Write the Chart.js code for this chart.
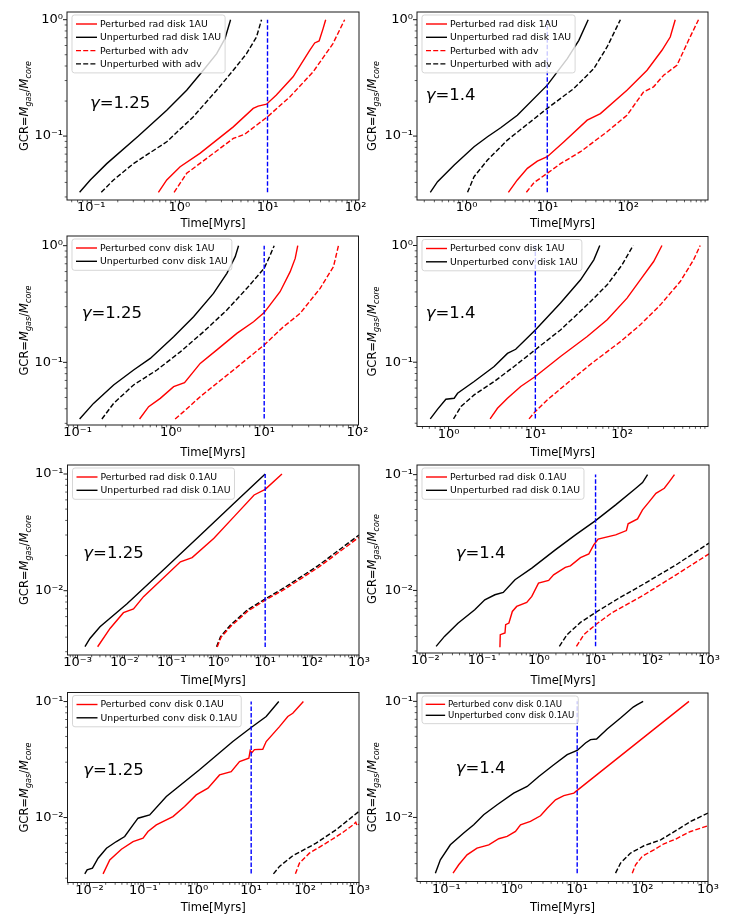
<!DOCTYPE html>
<html>
<head>
<meta charset="utf-8">
<script src="https://cdn.jsdelivr.net/npm/chart.js@4.4.0/dist/chart.umd.min.js"></script>
<style>
  html, body { margin: 0; padding: 0; background: #fff; }
  body { width: 747px; height: 922px; position: relative; overflow: hidden; }
  canvas { position: absolute; }
</style>
</head>
<body>
<script>
// GCR curves, each point is [time in Myr, GCR]
// row 1: radiative disk at 1 AU
const p1PertRad = [[0.578,0.0329],[0.719,0.042],[1.02,0.0546],[1.71,0.071],[4.09,0.120],[6.88,0.173],[7.83,0.181],[9.75,0.188],[12.6,0.225],[19.5,0.323],[30.1,0.546],[34.3,0.631],[38.5,0.656],[42.7,0.838],[45.7,1.0]];
const p1UnpRad  = [[0.0738,0.0329],[0.0975,0.042],[0.150,0.058],[0.343,0.1],[0.719,0.167],[1.21,0.248],[1.87,0.368],[2.65,0.511],[3.29,0.687],[3.81,1.0]];
const p1PertAdv = [[0.871,0.0329],[1.21,0.0479],[2.43,0.071],[4.09,0.0955],[5.53,0.104],[10,0.1465],[17.9,0.217],[32.9,0.356],[55.3,0.623],[75,1.0]];
const p1UnpAdv  = [[0.130,0.0329],[0.179,0.042],[0.301,0.058],[0.719,0.0894],[1.44,0.1465],[2.65,0.248],[4.09,0.368],[5.78,0.511],[7.5,0.71],[8.55,1.0]];

const p2PertRad = [[3.30,0.0329],[4.26,0.042],[5.67,0.0528],[7.53,0.061],[10,0.0665],[16.1,0.0894],[31.2,0.137],[45.5,0.156],[97,0.248],[172,0.368],[263,0.546],[333,0.71],[384,1.0]];
const p2UnpRad  = [[0.356,0.0329],[0.438,0.0406],[0.705,0.0564],[1.24,0.081],[1.82,0.0987],[2.65,0.118],[4.26,0.151],[10,0.274],[17.7,0.463],[24.6,0.665],[32.1,1.0]];
const p2PertAdv = [[5.51,0.0329],[6.84,0.0398],[10,0.0479],[14.6,0.058],[25.8,0.0734],[55,0.109],[97,0.151],[156,0.240],[207,0.265],[276,0.333],[403,0.406],[561,0.665],[745,1.0]];
const p2UnpAdv  = [[1.03,0.0329],[1.24,0.0448],[1.82,0.0623],[3.21,0.0924],[5.15,0.120],[10,0.173],[21.3,0.256],[37.7,0.380],[55,0.583],[80.4,1.0]];

// row 2: convective disk at 1 AU
const p3PertConv = [[0.461,0.0327],[0.577,0.0417],[0.769,0.0491],[1.07,0.0619],[1.40,0.067],[2.06,0.098],[3.11,0.128],[5.09,0.177],[7.69,0.223],[10,0.267],[14.8,0.403],[19.0,0.599],[21.5,0.778],[22.9,1.0]];
const p3UnpConv  = [[0.105,0.0327],[0.148,0.0445],[0.243,0.064],[0.398,0.086],[0.601,0.108],[1.07,0.166],[1.75,0.246],[2.86,0.39],[3.98,0.579],[4.89,0.805],[5.31,1.0]];
const p3PertAdv  = [[1.11,0.0327],[1.37,0.0378],[2.06,0.0508],[4.69,0.086],[10,0.141],[16.1,0.202],[24.3,0.263],[39.8,0.431],[55.3,0.661],[62.5,1.0]];
const p3UnpAdv   = [[0.182,0.0327],[0.243,0.0445],[0.398,0.064],[0.708,0.086],[1.26,0.123],[2.24,0.183],[3.98,0.281],[6.52,0.431],[10,0.64],[11.4,0.805],[12.8,1.0]];

const p4PertConv = [[3.01,0.0327],[3.66,0.0403],[4.77,0.0491],[6.78,0.0619],[10,0.0754],[19.5,0.112],[39.6,0.166],[67.3,0.231],[114,0.354],[162,0.508],[231,0.729],[288,1.0]];
const p4UnpConv  = [[0.615,0.0327],[0.748,0.0396],[0.931,0.0482],[1.16,0.0491],[1.27,0.0542],[1.97,0.0683],[3.35,0.0918],[4.77,0.119],[5.94,0.129],[10,0.189],[19.5,0.321],[33.2,0.508],[47.2,0.753],[55.3,1.0]];
const p4PertAdv  = [[8.46,0.0327],[10,0.0378],[13.7,0.0475],[23.3,0.066],[47.2,0.101],[95.7,0.150],[162,0.209],[276,0.31],[468,0.491],[666,0.753],[794,1.0]];
const p4UnpAdv   = [[1.14,0.0327],[1.39,0.0417],[1.97,0.0525],[3.35,0.0683],[5.69,0.0918],[10,0.128],[19.5,0.189],[39.6,0.31],[67.3,0.46],[100,0.683],[134,1.0]];

// row 3: radiative disk at 0.1 AU
const p5PertRad = [[0.00268,0.00331],[0.00493,0.00475],[0.00952,0.00648],[0.0156,0.00697],[0.0255,0.00889],[0.156,0.0177],[0.277,0.0192],[0.808,0.0281],[2.17,0.0431],[5.81,0.0661],[10,0.0739],[22.8,0.1]];
const p5UnpRad  = [[0.00144,0.00331],[0.00184,0.0039],[0.00301,0.00491],[0.0112,0.00769],[0.0807,0.0161],[0.418,0.030],[2.17,0.0561],[10,0.1]];
const p5PertAdv = [[0.95,0.0033],[1.15,0.004],[1.9,0.005],[4.3,0.0067],[10,0.0083],[26,0.0103],[135,0.0158],[1000,0.0287]];
const p5UnpAdv  = [[0.92,0.00331],[1.12,0.00405],[1.84,0.0051],[4.18,0.00685],[10,0.0085],[25.5,0.0106],[132,0.0163],[1000,0.030]];

const p6PertRad = [[0.206,0.00324],[0.209,0.00415],[0.253,0.00429],[0.26,0.00506],[0.297,0.00523],[0.341,0.00659],[0.407,0.00728],[0.612,0.00788],[0.752,0.00888],[0.986,0.01157],[1.49,0.0122],[1.82,0.01365],[2.93,0.0158],[3.6,0.0163],[5.42,0.0192],[7.62,0.0207],[9.34,0.0248],[11.1,0.0277],[22.6,0.0302],[35,0.0329],[37.5,0.0376],[55,0.0415],[67.3,0.0496],[88.5,0.0585],[116,0.069],[163,0.0762],[200,0.087],[246,0.1]];
const p6UnpRad  = [[0.01545,0.00329],[0.0217,0.00401],[0.0375,0.00522],[0.0741,0.00681],[0.1115,0.00831],[0.168,0.00918],[0.236,0.00962],[0.38,0.01236],[0.752,0.0156],[1.95,0.0224],[4.42,0.0302],[10,0.0401],[22.6,0.0548],[51.3,0.0762],[67.3,0.0853],[82.6,0.1]];
const p6PertAdv = [[4.6,0.00329],[6.21,0.00415],[10,0.00506],[19.8,0.00646],[67.3,0.009],[263,0.01365],[1000,0.0207]];
const p6UnpAdv  = [[2.3,0.00329],[3.14,0.00415],[5.42,0.0053],[10,0.00646],[25.9,0.00859],[67.3,0.0112],[263,0.01665],[1000,0.0256]];

// row 4: convective disk at 0.1 AU
const p7PertConv = [[0.0179,0.00327],[0.0238,0.00431],[0.0392,0.00533],[0.0644,0.00621],[0.0987,0.00663],[0.122,0.00757],[0.174,0.00865],[0.354,0.0102],[0.582,0.01245],[0.957,0.01567],[1.58,0.0179],[2.59,0.0233],[4.26,0.0249],[6.08,0.0304],[9.06,0.0325],[9.58,0.0378],[10.3,0.0362],[11.5,0.0385],[16.4,0.0388],[19,0.0452],[33.5,0.0608],[47.8,0.0743],[59.1,0.0793],[93,0.1]];
const p7UnpConv  = [[0.0082,0.00327],[0.00906,0.00354],[0.01138,0.00366],[0.01446,0.00446],[0.0207,0.00544],[0.0316,0.00621],[0.0451,0.00686],[0.0644,0.00865],[0.0797,0.00987],[0.131,0.01054],[0.267,0.0152],[1.1,0.0258],[4.57,0.0452],[10,0.0597],[19,0.0743],[32.5,0.1]];
const p7PertAdv  = [[66.2,0.00327],[78.5,0.00404],[120,0.00493],[245,0.00601],[499,0.00743],[764,0.0086],[870,0.0091],[920,0.0085],[1000,0.0088]];
const p7UnpAdv   = [[25.9,0.00327],[33.5,0.00379],[59.1,0.00468],[160,0.00601],[375,0.00783],[1000,0.0113]];

const p8PertConv = [[0.1265,0.00331],[0.1545,0.00391],[0.207,0.00476],[0.294,0.00544],[0.445,0.00581],[0.632,0.00655],[0.849,0.00686],[1.14,0.00757],[1.36,0.00865],[1.93,0.00924],[2.75,0.01033],[3.48,0.0120],[4.66,0.0142],[6.25,0.0154],[8.89,0.0162],[10,0.0171],[512,0.1]];
const p8UnpConv  = [[0.0679,0.00331],[0.0809,0.00431],[0.115,0.00581],[0.184,0.00733],[0.262,0.00865],[0.372,0.01054],[0.597,0.01285],[1.07,0.0162],[1.72,0.0185],[2.59,0.0225],[4.39,0.0284],[7.03,0.0347],[10,0.0378],[13.4,0.0438],[16,0.0468],[19.8,0.0474],[28.8,0.0577],[46,0.0718],[71.9,0.0893],[82.8,0.0936],[102,0.1]];
const p8PertAdv  = [[69.5,0.00331],[78.2,0.00391],[98.9,0.00462],[149,0.00526],[212,0.00593],[320,0.0065],[455,0.00722],[543,0.00757],[1000,0.00847]];
const p8UnpAdv   = [[38.6,0.00331],[46,0.00404],[65.5,0.00493],[105,0.0057],[189,0.00641],[340,0.00783],[543,0.00924],[1000,0.0109]];

// vertical marker at 10 Myr, spanning the GCR range of each row
const markerTime = 10;
const markerSpan1AU = [0.033, 1.0];
const markerSpan01AU = [0.0033, 0.1];

// axis limits as log10 exponents
const xLogRange = [[-1.275,2.038],[-0.613,2.99],[-1.114,2.011],[-0.364,2.99],[-3.214,3.0],[-2.148,3.0],[-2.407,3.0],[-1.449,3.0]];
const yLogRange = [[-1.549,0.066],[-1.549,0.066],[-1.537,0.083],[-1.551,0.077],[-2.551,-0.923],[-2.54,-0.917],[-2.56,-0.922],[-2.552,-0.928]];

// text
const legendRad1AU  = ['Perturbed rad disk 1AU','Unperturbed rad disk 1AU','Perturbed with adv','Unperturbed with adv'];
const legendConv1AU = ['Perturbed conv disk 1AU','Unperturbed conv disk 1AU'];
const legendRad01AU  = ['Perturbed rad disk 0.1AU','Unperturbed rad disk 0.1AU'];
const legendConv01AU = ['Perturbed conv disk 0.1AU','Unperturbed conv disk 0.1AU'];
const gammaValues = ['1.25','1.4','1.25','1.4','1.25','1.4','1.25','1.4'];
const xTitle = 'Time[Myrs]';
const superDigits = { '-': '\u207B', '0': '\u2070', '1': '\u00B9', '2': '\u00B2', '3': '\u00B3', '4': '\u2074' };

const panelSeries = [
  [p1PertRad, p1UnpRad, p1PertAdv, p1UnpAdv],
  [p2PertRad, p2UnpRad, p2PertAdv, p2UnpAdv],
  [p3PertConv, p3UnpConv, p3PertAdv, p3UnpAdv],
  [p4PertConv, p4UnpConv, p4PertAdv, p4UnpAdv],
  [p5PertRad, p5UnpRad, p5PertAdv, p5UnpAdv],
  [p6PertRad, p6UnpRad, p6PertAdv, p6UnpAdv],
  [p7PertConv, p7UnpConv, p7PertAdv, p7UnpAdv],
  [p8PertConv, p8UnpConv, p8PertAdv, p8UnpAdv]
];
const panelLegends = [legendRad1AU, legendRad1AU, legendConv1AU, legendConv1AU, legendRad01AU, legendRad01AU, legendConv01AU, legendConv01AU];
const markerSpans = [markerSpan1AU, markerSpan1AU, markerSpan1AU, markerSpan1AU, markerSpan01AU, markerSpan01AU, markerSpan01AU, markerSpan01AU];

// ---- layout (page pixels) ----
const colLeft = [0, 360], colWidth = [374, 387];
const rowTop = [0, 230, 460, 690], rowHeight = [232, 232, 232, 232];
const frames = [
  [67, 12, 359, 200], [417, 12, 708, 200],
  [67, 236, 358.5, 425], [417, 236.5, 708, 426.5],
  [67.5, 465, 359, 655], [417, 465, 709, 653],
  [67.5, 692.5, 359, 882.5], [417, 693, 708, 881.5]
];
const xTitleBaseline = [227, 455.7, 684.4, 911];
const yTitleBaseline = [28, 376];
const gammaPos = [[90,108],[425.7,100],[81.7,318.3],[425.7,318.3],[83.3,558.3],[455.7,558.3],[83.3,775],[455.7,773.3]];
const legendFont = [9.3, 9.3, 9.3, 9.3, 9.3, 9.3, 9.3, 8.6];

const RED = '#ff0000', BLACK = '#000000', BLUE = '#0000ff';
const seriesStyle = [
  { color: RED, dash: [] }, { color: BLACK, dash: [] },
  { color: RED, dash: [5, 2.2] }, { color: BLACK, dash: [5, 2.2] }
];
const FONT = '"DejaVu Sans", sans-serif';

function supLabel(v) {
  const e = String(Math.round(Math.log10(v)));
  return '10' + e.split('').map(ch => superDigits[ch]).join('');
}

function drawLogTicks(ctx, scale, horizontal, area) {
  const lo = Math.floor(Math.log10(scale.min)) - 1, hi = Math.ceil(Math.log10(scale.max));
  for (let d = lo; d <= hi; d++) {
    for (let m = 1; m <= 9; m++) {
      const v = m * Math.pow(10, d);
      if (v < scale.min * 0.9999 || v > scale.max * 1.0001) continue;
      const p = scale.getPixelForValue(v);
      const len = m === 1 ? 4 : 2.3;
      ctx.lineWidth = m === 1 ? 1 : 0.7;
      ctx.beginPath();
      if (horizontal) { ctx.moveTo(p, area.bottom); ctx.lineTo(p, area.bottom + len); }
      else { ctx.moveTo(area.left, p); ctx.lineTo(area.left - len, p); }
      ctx.stroke();
    }
  }
}

function drawYTitle(ctx, bx, midY) {
  const fs = 11.5, sub = fs * 0.7;
  const parts = [
    { t: 'GCR=', f: `${fs}px ${FONT}`, dy: 0 },
    { t: 'M', f: `italic ${fs}px ${FONT}`, dy: 0 },
    { t: 'gas', f: `italic ${sub}px ${FONT}`, dy: fs * 0.22 },
    { t: '/', f: `${fs}px ${FONT}`, dy: 0 },
    { t: 'M', f: `italic ${fs}px ${FONT}`, dy: 0 },
    { t: 'core', f: `italic ${sub}px ${FONT}`, dy: fs * 0.22 }
  ];
  let total = 0;
  parts.forEach(p => { ctx.font = p.f; p.w = ctx.measureText(p.t).width; total += p.w; });
  ctx.save();
  ctx.translate(bx, midY);
  ctx.rotate(-Math.PI / 2);
  ctx.textAlign = 'left'; ctx.textBaseline = 'alphabetic'; ctx.fillStyle = '#000';
  let x = -total / 2;
  parts.forEach(p => { ctx.font = p.f; ctx.fillText(p.t, x, p.dy); x += p.w; });
  ctx.restore();
}

const mplPlugin = {
  id: 'mpl',
  afterDatasetsDraw(chart, args, opts) {
    const i = opts.panel;
    const { ctx, chartArea: a } = chart;
    const col = i % 2, row = Math.floor(i / 2);
    const ox = colLeft[col], oy = rowTop[row];
    ctx.save();
    ctx.strokeStyle = '#1a1a1a';
    drawLogTicks(ctx, chart.scales.x, true, a);
    drawLogTicks(ctx, chart.scales.y, false, a);
    ctx.lineWidth = 1;
    ctx.strokeRect(a.left, a.top, a.right - a.left, a.bottom - a.top);

    // legend box
    const labels = panelLegends[i];
    const fs = legendFont[i], k = fs / 9.3;
    const rowH = (i === 7 ? 11 : 13.3);
    ctx.font = `${fs}px ${FONT}`;
    const tw = Math.max(...labels.map(t => ctx.measureText(t).width));
    const bx = a.left + 5, by = a.top + 3;
    const bw = 28 * k + tw + 4, bh = (labels.length - 1) * rowH + 18 * k;
    ctx.beginPath();
    ctx.roundRect(bx, by, bw, bh, 2.5);
    ctx.fillStyle = 'rgba(255,255,255,0.8)';
    ctx.fill();
    ctx.strokeStyle = 'rgba(204,204,204,0.8)';
    ctx.lineWidth = 1;
    ctx.stroke();
    labels.forEach((t, j) => {
      const yy = by + 9 * k + j * rowH;
      const st = seriesStyle[j];
      ctx.strokeStyle = st.color; ctx.lineWidth = 1.4; ctx.setLineDash(st.dash);
      ctx.beginPath(); ctx.moveTo(bx + 4 * k, yy); ctx.lineTo(bx + 25 * k, yy); ctx.stroke();
      ctx.setLineDash([]);
      ctx.fillStyle = '#000'; ctx.textAlign = 'left'; ctx.textBaseline = 'middle';
      ctx.fillText(t, bx + 28 * k, yy + 0.5);
    });

    // gamma annotation
    const [gx, gy] = gammaPos[i];
    ctx.textBaseline = 'alphabetic'; ctx.textAlign = 'left'; ctx.fillStyle = '#000';
    ctx.font = `italic 16.5px ${FONT}`;
    ctx.fillText('\u03B3', gx - ox, gy - oy);
    const gw = ctx.measureText('\u03B3').width;
    ctx.font = `16.5px ${FONT}`;
    ctx.fillText('=' + gammaValues[i], gx - ox + gw, gy - oy);

    // axis titles
    ctx.font = `11.6px ${FONT}`;
    ctx.textAlign = 'center';
    ctx.fillText(xTitle, (a.left + a.right) / 2, xTitleBaseline[row] - oy);
    drawYTitle(ctx, yTitleBaseline[col] - ox, (a.top + a.bottom) / 2);
    ctx.restore();
  }
};

function makePanel(i) {
  const col = i % 2, row = Math.floor(i / 2);
  const cx = colLeft[col], cy = rowTop[row], cw = colWidth[col], ch = rowHeight[row];
  const [L, T, R, B] = frames[i];
  const canvas = document.createElement('canvas');
  canvas.width = cw; canvas.height = ch;
  canvas.style.left = cx + 'px'; canvas.style.top = cy + 'px';
  document.body.appendChild(canvas);

  const span = markerSpans[i];
  const datasets = [{
    data: [{ x: markerTime, y: span[0] }, { x: markerTime, y: span[1] }],
    borderColor: BLUE, borderDash: [4.5, 2], borderWidth: 1.4, order: 0
  }];
  panelSeries[i].forEach((s, j) => {
    datasets.push({
      data: s.map(([t, g]) => ({ x: t, y: g })),
      borderColor: seriesStyle[j].color,
      borderDash: seriesStyle[j].dash,
      borderWidth: 1.4,
      order: j + 1
    });
  });

  const xr = xLogRange[i], yr = yLogRange[i];
  const decades = (lo, hi) => {
    const out = [];
    for (let e = Math.ceil(lo - 1e-6); e <= Math.floor(hi + 1e-6); e++) out.push({ value: Math.pow(10, e) });
    return out;
  };
  const tickFont = { family: FONT, size: 13 };

  new Chart(canvas, {
    type: 'scatter',
    data: { datasets },
    plugins: [mplPlugin],
    options: {
      responsive: false,
      animation: false,
      events: [],
      showLine: true,
      elements: { point: { radius: 0 }, line: { tension: 0, fill: false } },
      layout: { autoPadding: false, padding: { left: 0, top: T - cy, right: cx + cw - R, bottom: 0 } },
      plugins: { legend: { display: false }, tooltip: { enabled: false }, mpl: { panel: i } },
      scales: {
        x: {
          type: 'logarithmic', bounds: 'data',
          min: Math.pow(10, xr[0]), max: Math.pow(10, xr[1]),
          grid: { display: false, drawTicks: false }, border: { display: false },
          ticks: { font: tickFont, color: '#000', padding: 0, autoSkip: false, maxRotation: 0, callback: v => supLabel(v) },
          afterBuildTicks: s => { s.ticks = decades(xr[0], xr[1]); },
          afterFit: s => { s.height = cy + ch - B; s.paddingLeft = 0; s.paddingRight = 0; }
        },
        y: {
          type: 'logarithmic', bounds: 'data',
          min: Math.pow(10, yr[0]), max: Math.pow(10, yr[1]),
          grid: { display: false, drawTicks: false }, border: { display: false },
          ticks: { font: tickFont, color: '#000', padding: 4, autoSkip: false, callback: v => supLabel(v) },
          afterBuildTicks: s => { s.ticks = decades(yr[0], yr[1]); },
          afterFit: s => { s.width = L - cx; s.paddingTop = 0; s.paddingBottom = 0; }
        }
      }
    }
  });
}

for (let i = 0; i < 8; i++) makePanel(i);
</script>
</body>
</html>
